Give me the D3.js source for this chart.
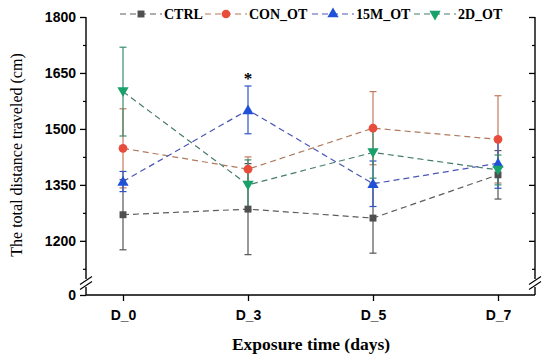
<!DOCTYPE html>
<html><head><meta charset="utf-8">
<script src="https://cdn.jsdelivr.net/npm/d3@7"></script>
<style>body{margin:0;background:#fff}svg{display:block}</style>
</head><body>
<script>
const categories = ["D_0","D_3","D_5","D_7"];
const seriesNames = ["CTRL","CON_OT","15M_OT","2D_OT"];
const ctrlMean = [1270,1285,1261,1377];
const ctrlErr  = [94,122,94,65];
const conMean  = [1448,1392,1502,1472];
const conErr   = [106,33,98,117];
const m15Mean  = [1359,1551,1353,1408];
const m15Err   = [27,64,61,67];
const d2Mean   = [1600,1350,1437,1390];
const d2Err    = [119,67,69,40];
const yMajorTicks = [1200,1350,1500,1650,1800];
const yMinorTicks = [1125,1275,1425,1575,1725];
const yLowTicks = [0];

const W=550,H=363;
const svg=d3.select("body").append("svg").attr("width",W).attr("height",H);
const serif='"Liberation Serif","Times New Roman",serif';
const fmt=d3.format("d");

const x=d3.scalePoint().domain(categories).range([123,498]);
const yTop=d3.scaleLinear().domain([1087,1800]).range([283,17]);
const yLow=d3.scaleLinear().domain([0,100]).range([295,287]);
const xL=86,xR=535;

const series=[
 {name:"CTRL",mean:ctrlMean,err:ctrlErr,marker:"#4f4f4f",line:"#5c5c5c",bar:"#555555",shape:d3.symbolSquare,size:48,rot:0},
 {name:"CON_OT",mean:conMean,err:conErr,marker:"#e84d3c",line:"#b07a5e",bar:"#c27a5c",shape:d3.symbolCircle,size:60,rot:0},
 {name:"15M_OT",mean:m15Mean,err:m15Err,marker:"#1f50d8",line:"#4a56b8",bar:"#2e54c8",shape:d3.symbolTriangle,size:55,rot:0},
 {name:"2D_OT",mean:d2Mean,err:d2Err,marker:"#19a06b",line:"#467c6c",bar:"#3a8c6c",shape:d3.symbolTriangle,size:55,rot:180}
];

// axes
const axG=svg.append("g").attr("font-family",serif);
const left=axG.append("g").attr("transform",`translate(${xL},0)`)
 .call(d3.axisLeft(yTop).tickValues(yMajorTicks).tickFormat(fmt).tickSize(6).tickSizeOuter(0).tickPadding(4));
left.select(".domain").remove();
left.selectAll("text").attr("font-size",14).attr("font-weight","bold").attr("fill","#000");
left.selectAll("line").attr("stroke","#000").attr("stroke-width",1.3);
const leftMin=axG.append("g").attr("transform",`translate(${xL},0)`)
 .call(d3.axisLeft(yTop).tickValues(yMinorTicks).tickSize(3).tickFormat(""));
leftMin.select(".domain").remove();
leftMin.selectAll("line").attr("stroke","#000").attr("stroke-width",1.2);
const leftLow=axG.append("g").attr("transform",`translate(${xL},0)`)
 .call(d3.axisLeft(yLow).tickValues(yLowTicks).tickFormat(fmt).tickSize(6).tickPadding(4));
leftLow.select(".domain").remove();
leftLow.selectAll("text").attr("font-size",14).attr("font-weight","bold").attr("fill","#000");
leftLow.selectAll("line").attr("stroke","#000").attr("stroke-width",1.3);

const right=axG.append("g").attr("transform",`translate(${xR},0)`)
 .call(d3.axisRight(yTop).tickValues(yMajorTicks).tickSize(-6).tickFormat(""));
right.select(".domain").remove();
right.selectAll("line").attr("stroke","#000").attr("stroke-width",1.3);
const rightMin=axG.append("g").attr("transform",`translate(${xR},0)`)
 .call(d3.axisRight(yTop).tickValues(yMinorTicks).tickSize(-3).tickFormat(""));
rightMin.select(".domain").remove();
rightMin.selectAll("line").attr("stroke","#000").attr("stroke-width",1.2);

// axis lines with breaks
const yBreakTop=yTop(1098), yBreakBot=yLow(100);
[xL,xR].forEach(xx=>{
  axG.append("line").attr("x1",xx).attr("x2",xx).attr("y1",yTop(1800)).attr("y2",yBreakTop).attr("stroke","#000").attr("stroke-width",1.4);
  axG.append("line").attr("x1",xx).attr("x2",xx).attr("y1",yBreakBot).attr("y2",yLow(0)).attr("stroke","#000").attr("stroke-width",1.4);
  [-2.5,2.5].forEach(o=>{
    axG.append("line").attr("x1",xx-6).attr("x2",xx+6).attr("y1",(yBreakTop+yBreakBot)/2+o+4).attr("y2",(yBreakTop+yBreakBot)/2+o-4)
     .attr("stroke","#000").attr("stroke-width",1.2);
  });
});

const bottom=axG.append("g").attr("transform",`translate(0,${yLow(0)})`)
 .call(d3.axisBottom(x).tickSize(6).tickSizeOuter(0).tickPadding(9));
bottom.select(".domain").remove();
axG.append("line").attr("x1",xL).attr("x2",xR).attr("y1",yLow(0)).attr("y2",yLow(0)).attr("stroke","#000").attr("stroke-width",1.5);
bottom.selectAll("text").attr("font-size",14).attr("font-weight","bold").attr("fill","#000");
bottom.selectAll("line").attr("stroke","#000").attr("stroke-width",1.3);

// titles
svg.append("text").attr("x",311).attr("y",350).attr("text-anchor","middle")
 .attr("font-family",serif).attr("font-weight","bold").attr("font-size",17.5).text("Exposure time (days)");
svg.append("text").attr("transform","translate(22,155) rotate(-90)").attr("text-anchor","middle")
 .attr("font-family",serif).attr("font-size",16).text("The total distance traveled (cm)");

// lines
const lineGen=d3.line().x((d,i)=>x(categories[i])).y(d=>yTop(d));
series.forEach(s=>{
  svg.append("path").attr("d",lineGen(s.mean)).attr("fill","none").attr("stroke",s.line)
   .attr("stroke-width",1.2).attr("stroke-dasharray","6,4");
});
// error bars
series.forEach(s=>{
  const g=svg.append("g").attr("stroke",s.bar).attr("stroke-width",1.2);
  s.mean.forEach((m,i)=>{
    const cx=x(categories[i]), y1=yTop(m+s.err[i]), y2=yTop(m-s.err[i]);
    g.append("line").attr("x1",cx).attr("x2",cx).attr("y1",y1).attr("y2",y2);
    g.append("line").attr("x1",cx-3.5).attr("x2",cx+3.5).attr("y1",y1).attr("y2",y1);
    g.append("line").attr("x1",cx-3.5).attr("x2",cx+3.5).attr("y1",y2).attr("y2",y2);
  });
});
// markers
series.forEach(s=>{
  const sym=d3.symbol().type(s.shape).size(s.size);
  s.mean.forEach((m,i)=>{
    svg.append("path").attr("d",sym()).attr("fill",s.marker)
     .attr("transform",`translate(${x(categories[i])},${yTop(m)+(s.shape===d3.symbolTriangle?(s.rot?-1:1):0)}) rotate(${s.rot})`);
  });
});

// significance star
svg.append("text").attr("x",x("D_3")).attr("y",yTop(1615)-2).attr("text-anchor","middle")
 .attr("font-family",serif).attr("font-weight","bold").attr("font-size",17).text("*");

// legend
const legX=[120,205,312,414];
series.forEach((s,i)=>{
  const g=svg.append("g").attr("transform",`translate(${legX[i]},14)`);
  g.append("line").attr("x1",0).attr("x2",42).attr("y1",0).attr("y2",0).attr("stroke",s.line)
   .attr("stroke-width",1.2).attr("stroke-dasharray","6,4");
  g.append("path").attr("d",d3.symbol().type(s.shape).size(s.size)()).attr("fill",s.marker)
   .attr("transform",`translate(21,0) rotate(${s.rot})`);
  g.append("text").attr("x",44).attr("y",5).attr("font-family",serif).attr("font-weight","bold")
   .attr("font-size",14).text(s.name);
});
</script>
</body></html>
